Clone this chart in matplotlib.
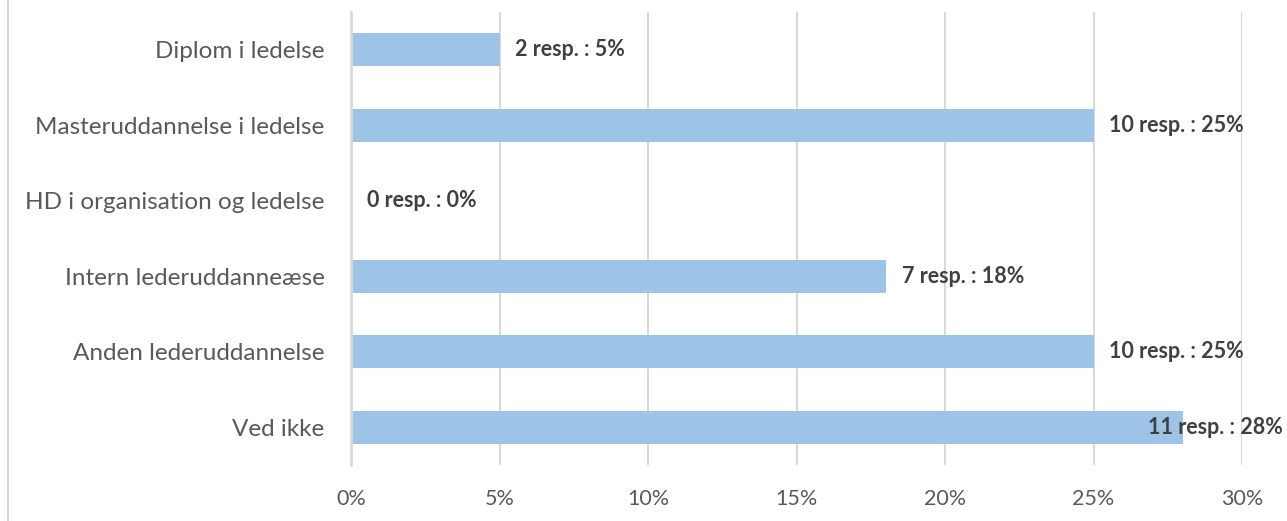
import matplotlib
matplotlib.use("Agg")
import matplotlib.pyplot as plt
from matplotlib.lines import Line2D

categories = ["Diplom i ledelse", "Masteruddannelse i ledelse", "HD i organisation og ledelse",
              "Intern lederuddanneæse", "Anden lederuddannelse", "Ved ikke"]
responses = [2, 10, 0, 7, 10, 11]
percents = [5, 25, 0, 18, 25, 28]
xticks = [0, 5, 10, 15, 20, 25, 30]
xticklabels = ["0%", "5%", "10%", "15%", "20%", "25%", "30%"]

plt.rcParams['font.family'] = ['Lato', 'DejaVu Sans']

W, H = 1287, 521
fig = plt.figure(figsize=(W / 100, H / 100), dpi=100)
ax = fig.add_axes([351 / W, 1 - 465 / H, (1242 - 351) / W, (465 - 12) / H])

ypos = list(range(len(categories)))
ax.barh(ypos, percents, height=0.44, color="#9DC3E6", zorder=2)
ax.set_ylim(len(categories) - 0.5, -0.5)
ax.set_xlim(0, 30)
ax.set_xticks(xticks)
ax.set_xticklabels(xticklabels)
ax.set_yticks(ypos)
ax.set_yticklabels(categories)
ax.tick_params(axis='x', length=0, pad=17.5, labelsize=15.5, labelcolor="#595959")
ax.tick_params(axis='y', length=0, pad=19, labelsize=17.5, labelcolor="#595959")
ax.grid(axis='x', color="#D9D9D9", linewidth=1.5, zorder=0)
for s in ["top", "right", "bottom"]:
    ax.spines[s].set_visible(False)
ax.spines["left"].set_color("#D9D9D9")
ax.spines["left"].set_linewidth(2)

fig.canvas.draw()
r = fig.canvas.get_renderer()
limit_px = 1283
for y, n, p in zip(ypos, responses, percents):
    t = ax.annotate(f"{n} resp. : {p}%", xy=(p, y), xytext=(11.5, 0), textcoords="offset points",
                    ha="left", va="center", fontsize=15.5, fontweight="bold", color="#404040",
                    annotation_clip=False, zorder=3)
    bb = t.get_window_extent(r)
    if bb.x1 > limit_px:
        shift = (bb.x1 - limit_px) * 72 / 100
        t.set_position((11.5 - shift, 0))

fig.add_artist(Line2D([7.5 / W, 7.5 / W], [0, 1], transform=fig.transFigure, color="#D9D9D9", linewidth=1.5))

fig.savefig("out.png", dpi=100)
